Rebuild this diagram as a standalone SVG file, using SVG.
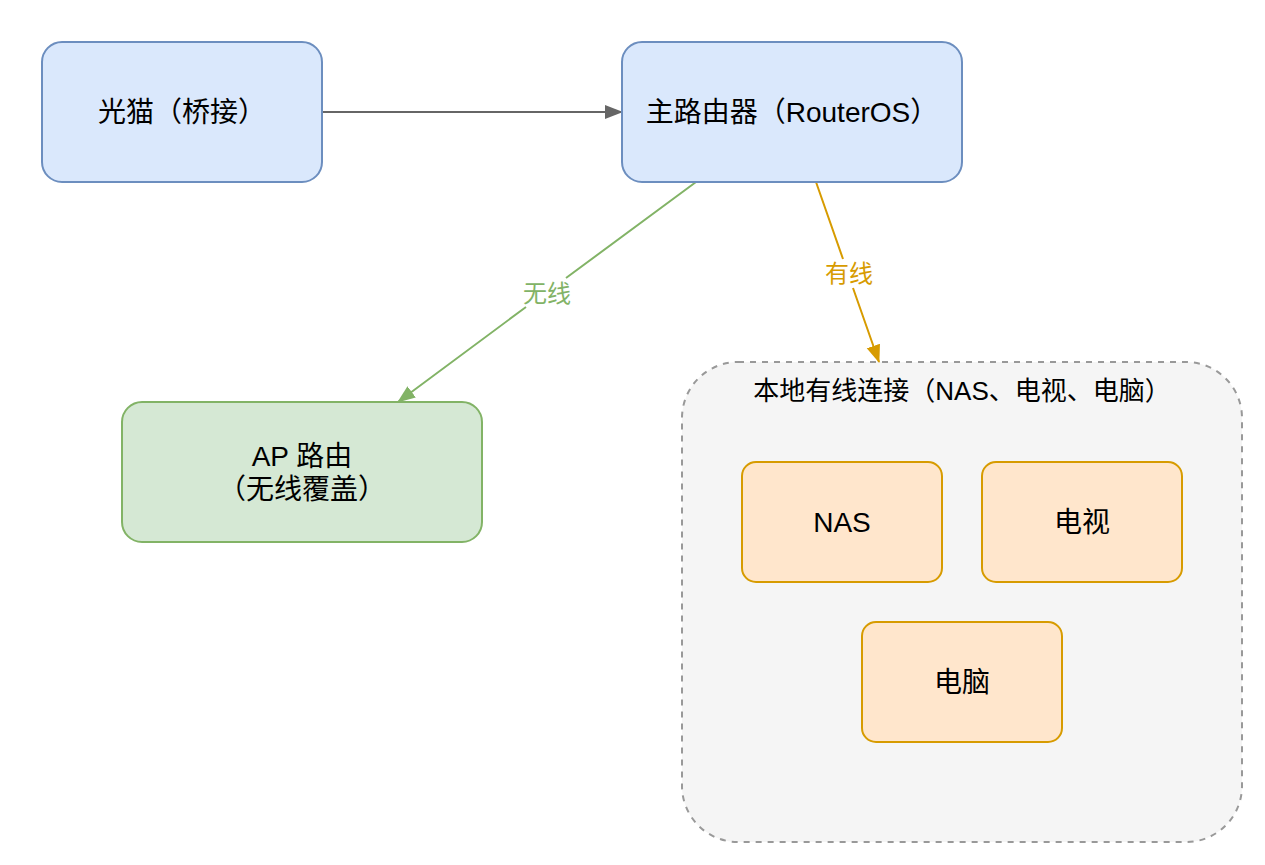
<svg xmlns="http://www.w3.org/2000/svg" width="1265" height="865" viewBox="0 0 1265 865">
<defs>
<style>
text{font-family:"Liberation Sans","Noto Sans CJK SC",sans-serif;text-anchor:middle;dominant-baseline:central}
.t{font-size:28px;fill:#000}
.tt{font-size:26px;fill:#000}
.blue{fill:#dae8fc;stroke:#6c8ebf;stroke-width:2}
.green{fill:#d5e8d4;stroke:#82b366;stroke-width:2}
.orange{fill:#ffe6cc;stroke:#d79b00;stroke-width:2}
.grp{fill:#f5f5f5;stroke:#999999;stroke-width:2;stroke-dasharray:6 6}
.lbl{font-size:24px}
</style>
<marker id="agr" markerWidth="18" markerHeight="18" refX="17" refY="9" orient="auto" markerUnits="userSpaceOnUse" viewBox="0 0 18 18"><path d="M0,2 L18,9 L0,16 Z" fill="#82b366"/></marker>
<marker id="aor" markerWidth="18" markerHeight="18" refX="17" refY="9" orient="auto" markerUnits="userSpaceOnUse" viewBox="0 0 18 18"><path d="M0,2 L18,9 L0,16 Z" fill="#d79b00"/></marker>
<marker id="agy" markerWidth="18" markerHeight="18" refX="17" refY="9" orient="auto" markerUnits="userSpaceOnUse" viewBox="0 0 18 18"><path d="M0,2 L18,9 L0,16 Z" fill="#666666"/></marker>
</defs>
<rect width="1265" height="865" fill="#ffffff"/>
<g id="group-local">
<rect class="grp" x="682" y="362" width="560" height="480" rx="56"/>
<text class="tt" x="962" y="391">本地有线连接（NAS、电视、电脑）</text>
</g>
<g id="connectors">
<line x1="322" y1="112" x2="622" y2="112" stroke="#666666" stroke-width="2" marker-end="url(#agy)"/>
<path d="M696,182 L566,278 M526,307 L398,402" stroke="#82b366" stroke-width="2" fill="none" marker-end="url(#agr)"/>
<path d="M816,182 L843,259 M853,288 L879,362" stroke="#d79b00" stroke-width="2" fill="none" marker-end="url(#aor)"/>
<text class="lbl" x="547" y="293" fill="#82b366">无线</text>
<text class="lbl" x="849" y="273" fill="#d79b00">有线</text>
</g>
<g id="node-modem">
<rect class="blue" x="42" y="42" width="280" height="140" rx="20"/>
<text class="t" x="182" y="112">光猫（桥接）</text>
</g>
<g id="node-router">
<rect class="blue" x="622" y="42" width="340" height="140" rx="20"/>
<text class="t" x="792" y="112">主路由器（RouterOS）</text>
</g>
<g id="node-ap">
<rect class="green" x="122" y="402" width="360" height="140" rx="20"/>
<text class="t" x="302" y="456">AP 路由</text>
<text class="t" x="302" y="489">（无线覆盖）</text>
</g>
<g id="node-nas">
<rect class="orange" x="742" y="462" width="200" height="120" rx="14"/>
<text class="t" x="842" y="522">NAS</text>
</g>
<g id="node-tv">
<rect class="orange" x="982" y="462" width="200" height="120" rx="14"/>
<text class="t" x="1082" y="522">电视</text>
</g>
<g id="node-pc">
<rect class="orange" x="862" y="622" width="200" height="120" rx="14"/>
<text class="t" x="962" y="682">电脑</text>
</g>
</svg>
